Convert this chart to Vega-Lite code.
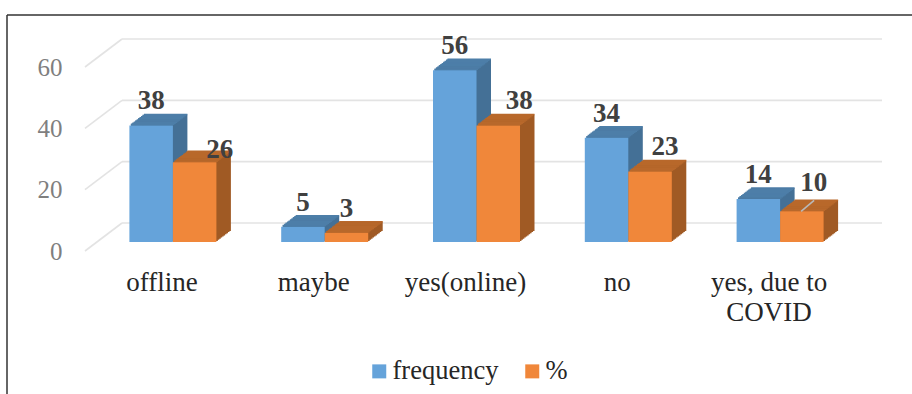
{
"$schema":"https://vega.github.io/schema/vega-lite/v6.json",
"width":759,"height":184,"autosize":"none",
"padding":{"left":85,"top":67,"right":68,"bottom":143},
"background":"white",
"config":{"view":{"stroke":null},"font":"Liberation Serif"},
"data":{"values":[
{"category":"offline","series":"frequency","value":38},{"category":"offline","series":"%","value":26},
{"category":"maybe","series":"frequency","value":5},{"category":"maybe","series":"%","value":3},
{"category":"yes(online)","series":"frequency","value":56},{"category":"yes(online)","series":"%","value":38},
{"category":"no","series":"frequency","value":34},{"category":"no","series":"%","value":23},
{"category":"yes, due to COVID","series":"frequency","value":14},{"category":"yes, due to COVID","series":"%","value":10}
]},
"layer":[
{"data":{"values":[{"tick":0},{"tick":20},{"tick":40},{"tick":60}]},"layer":[
 {"mark":{"type":"rule","color":"#e3e3e3","strokeWidth":1.6,"yOffset":-28,"y2Offset":-28},
  "encoding":{"x":{"value":37},"x2":{"value":797},"y":{"field":"tick","type":"quantitative","scale":{"domain":[0,60],"nice":false},
   "axis":{"title":null,"values":[0,20,40,60],"ticks":false,"domain":false,"grid":false,"labelPadding":23,"labelColor":"#7f7f7f","labelFontSize":25,"labelFont":"Liberation Serif"}},"y2":{"field":"tick"}}},
 {"mark":{"type":"rule","color":"#e3e3e3","strokeWidth":1.6,"y2Offset":-28},
  "encoding":{"x":{"value":0},"x2":{"value":37},"y":{"field":"tick","type":"quantitative"},"y2":{"field":"tick"}}}
]},
{"encoding":{
  "x":{"field":"category","type":"nominal","scale":{"domain":["offline","maybe","yes(online)","no","yes, due to COVID"],"paddingInner":0.428,"paddingOuter":0.214},
   "axis":{"title":null,"domain":false,"ticks":false,"labelAngle":0,"labelPadding":18,"labelOffset":1,"labelColor":"#262626","labelFontSize":27,"labelFont":"Liberation Serif","labelLineHeight":30,"labelBaseline":"top","labelLimit":300,
    "labelExpr":"datum.value === 'yes, due to COVID' ? ['yes, due to', 'COVID'] : datum.value"}},
  "y":{"field":"value","type":"quantitative","scale":{"domain":[0,60],"nice":false}}
 },
 "layer":[
 {"transform":[{"filter":"datum.series==='frequency'"}],"encoding":{"y2":{"datum":0}},"layer":[
  {"mark":{"type":"bar","width":43.5,"color":"#447096","xOffset":-8.3,"yOffset":-10.1,"y2Offset":-10.1}},
  {"mark":{"type":"bar","width":43.5,"color":"#447096","xOffset":-6.85,"yOffset":-11.2,"y2Offset":-11.2}},
  {"mark":{"type":"bar","width":43.5,"color":"#447096","xOffset":-5.4,"yOffset":-12.3,"y2Offset":-12.3}},
  {"mark":{"type":"bar","width":43.5,"color":"#447096","xOffset":-3.95,"yOffset":-13.4,"y2Offset":-13.4}},
  {"mark":{"type":"bar","width":43.5,"color":"#447096","xOffset":-2.5,"yOffset":-14.5,"y2Offset":-14.5}},
  {"mark":{"type":"bar","width":43.5,"color":"#447096","xOffset":-1.05,"yOffset":-15.6,"y2Offset":-15.6}},
  {"mark":{"type":"bar","width":43.5,"color":"#447096","xOffset":0.4,"yOffset":-16.7,"y2Offset":-16.7}},
  {"mark":{"type":"bar","width":43.5,"color":"#447096","xOffset":1.85,"yOffset":-17.8,"y2Offset":-17.8}},
  {"mark":{"type":"bar","width":43.5,"color":"#447096","xOffset":3.3,"yOffset":-18.9,"y2Offset":-18.9}},
  {"mark":{"type":"bar","width":43.5,"color":"#447096","xOffset":4.75,"yOffset":-20,"y2Offset":-20}}
 ]},
 {"transform":[{"filter":"datum.series==='frequency'"}],"encoding":{"y2":{"field":"value"}},"layer":[
  {"mark":{"type":"bar","width":43.5,"stroke":"#4d7ea8","strokeWidth":1.5,"xOffset":-8.3,"yOffset":-10.1,"y2Offset":-10.1}},
  {"mark":{"type":"bar","width":43.5,"stroke":"#4d7ea8","strokeWidth":1.5,"xOffset":-6.85,"yOffset":-11.2,"y2Offset":-11.2}},
  {"mark":{"type":"bar","width":43.5,"stroke":"#4d7ea8","strokeWidth":1.5,"xOffset":-5.4,"yOffset":-12.3,"y2Offset":-12.3}},
  {"mark":{"type":"bar","width":43.5,"stroke":"#4d7ea8","strokeWidth":1.5,"xOffset":-3.95,"yOffset":-13.4,"y2Offset":-13.4}},
  {"mark":{"type":"bar","width":43.5,"stroke":"#4d7ea8","strokeWidth":1.5,"xOffset":-2.5,"yOffset":-14.5,"y2Offset":-14.5}},
  {"mark":{"type":"bar","width":43.5,"stroke":"#4d7ea8","strokeWidth":1.5,"xOffset":-1.05,"yOffset":-15.6,"y2Offset":-15.6}},
  {"mark":{"type":"bar","width":43.5,"stroke":"#4d7ea8","strokeWidth":1.5,"xOffset":0.4,"yOffset":-16.7,"y2Offset":-16.7}},
  {"mark":{"type":"bar","width":43.5,"stroke":"#4d7ea8","strokeWidth":1.5,"xOffset":1.85,"yOffset":-17.8,"y2Offset":-17.8}},
  {"mark":{"type":"bar","width":43.5,"stroke":"#4d7ea8","strokeWidth":1.5,"xOffset":3.3,"yOffset":-18.9,"y2Offset":-18.9}},
  {"mark":{"type":"bar","width":43.5,"stroke":"#4d7ea8","strokeWidth":1.5,"xOffset":4.75,"yOffset":-20,"y2Offset":-20}}
 ]},
 {"transform":[{"filter":"datum.series==='%'"}],"encoding":{"y2":{"datum":0}},"layer":[
  {"mark":{"type":"bar","width":43.5,"color":"#a05a24","xOffset":35.2,"yOffset":-10.1,"y2Offset":-10.1}},
  {"mark":{"type":"bar","width":43.5,"color":"#a05a24","xOffset":36.65,"yOffset":-11.2,"y2Offset":-11.2}},
  {"mark":{"type":"bar","width":43.5,"color":"#a05a24","xOffset":38.1,"yOffset":-12.3,"y2Offset":-12.3}},
  {"mark":{"type":"bar","width":43.5,"color":"#a05a24","xOffset":39.55,"yOffset":-13.4,"y2Offset":-13.4}},
  {"mark":{"type":"bar","width":43.5,"color":"#a05a24","xOffset":41,"yOffset":-14.5,"y2Offset":-14.5}},
  {"mark":{"type":"bar","width":43.5,"color":"#a05a24","xOffset":42.45,"yOffset":-15.6,"y2Offset":-15.6}},
  {"mark":{"type":"bar","width":43.5,"color":"#a05a24","xOffset":43.9,"yOffset":-16.7,"y2Offset":-16.7}},
  {"mark":{"type":"bar","width":43.5,"color":"#a05a24","xOffset":45.35,"yOffset":-17.8,"y2Offset":-17.8}},
  {"mark":{"type":"bar","width":43.5,"color":"#a05a24","xOffset":46.8,"yOffset":-18.9,"y2Offset":-18.9}},
  {"mark":{"type":"bar","width":43.5,"color":"#a05a24","xOffset":48.25,"yOffset":-20,"y2Offset":-20}}
 ]},
 {"transform":[{"filter":"datum.series==='%'"}],"encoding":{"y2":{"field":"value"}},"layer":[
  {"mark":{"type":"bar","width":43.5,"stroke":"#b8682b","strokeWidth":1.5,"xOffset":35.2,"yOffset":-10.1,"y2Offset":-10.1}},
  {"mark":{"type":"bar","width":43.5,"stroke":"#b8682b","strokeWidth":1.5,"xOffset":36.65,"yOffset":-11.2,"y2Offset":-11.2}},
  {"mark":{"type":"bar","width":43.5,"stroke":"#b8682b","strokeWidth":1.5,"xOffset":38.1,"yOffset":-12.3,"y2Offset":-12.3}},
  {"mark":{"type":"bar","width":43.5,"stroke":"#b8682b","strokeWidth":1.5,"xOffset":39.55,"yOffset":-13.4,"y2Offset":-13.4}},
  {"mark":{"type":"bar","width":43.5,"stroke":"#b8682b","strokeWidth":1.5,"xOffset":41,"yOffset":-14.5,"y2Offset":-14.5}},
  {"mark":{"type":"bar","width":43.5,"stroke":"#b8682b","strokeWidth":1.5,"xOffset":42.45,"yOffset":-15.6,"y2Offset":-15.6}},
  {"mark":{"type":"bar","width":43.5,"stroke":"#b8682b","strokeWidth":1.5,"xOffset":43.9,"yOffset":-16.7,"y2Offset":-16.7}},
  {"mark":{"type":"bar","width":43.5,"stroke":"#b8682b","strokeWidth":1.5,"xOffset":45.35,"yOffset":-17.8,"y2Offset":-17.8}},
  {"mark":{"type":"bar","width":43.5,"stroke":"#b8682b","strokeWidth":1.5,"xOffset":46.8,"yOffset":-18.9,"y2Offset":-18.9}},
  {"mark":{"type":"bar","width":43.5,"stroke":"#b8682b","strokeWidth":1.5,"xOffset":48.25,"yOffset":-20,"y2Offset":-20}}
 ]},
 {"transform":[{"filter":"datum.series==='frequency'"}],"mark":{"type":"bar","width":43.5,"xOffset":-9.75,"yOffset":-9,"y2Offset":-9},
  "encoding":{"y2":{"datum":0},
   "fill":{"field":"series","type":"nominal","scale":{"domain":["frequency","%"],"range":["#65a3da","#f0873a"]},
    "legend":{"orient":"none","legendX":281,"legendY":291,"padding":0,"direction":"horizontal","title":null,"symbolType":"square","symbolSize":196,"symbolStrokeWidth":0,"labelFont":"Liberation Serif","labelFontSize":26.5,"labelColor":"#262626","labelOffset":0,"columnPadding":20}}}},
 {"transform":[{"filter":"datum.series==='%'"}],"mark":{"type":"bar","width":43.5,"xOffset":33.75,"yOffset":-9,"y2Offset":-9},
  "encoding":{"y2":{"datum":0},"fill":{"field":"series","type":"nominal"}}},
 {"transform":[{"filter":"datum.series==='frequency'"}],"mark":{"type":"text","font":"Liberation Serif","fontWeight":"bold","fontSize":27,"color":"#404040","dx":-9.75,"dy":-33},"encoding":{"text":{"field":"value"}}},
 {"transform":[{"filter":"datum.series==='%' && datum.category==='offline'"}],"mark":{"type":"text","font":"Liberation Serif","fontWeight":"bold","fontSize":27,"color":"#404040","dx":58.75,"dy":-21},"encoding":{"text":{"field":"value"}}},
 {"transform":[{"filter":"datum.series==='%' && datum.category==='maybe'"}],"mark":{"type":"text","font":"Liberation Serif","fontWeight":"bold","fontSize":27,"color":"#404040","dx":33.75,"dy":-33},"encoding":{"text":{"field":"value"}}},
 {"transform":[{"filter":"datum.series==='%' && datum.category==='yes(online)'"}],"mark":{"type":"text","font":"Liberation Serif","fontWeight":"bold","fontSize":27,"color":"#404040","dx":54.75,"dy":-33},"encoding":{"text":{"field":"value"}}},
 {"transform":[{"filter":"datum.series==='%' && datum.category==='no'"}],"mark":{"type":"text","font":"Liberation Serif","fontWeight":"bold","fontSize":27,"color":"#404040","dx":48.75,"dy":-33},"encoding":{"text":{"field":"value"}}},
 {"transform":[{"filter":"datum.series==='%' && datum.category==='yes, due to COVID'"}],"mark":{"type":"text","font":"Liberation Serif","fontWeight":"bold","fontSize":27,"color":"#404040","dx":45.75,"dy":-37},"encoding":{"text":{"field":"value"}}}
 ]},
{"transform":[{"filter":"datum.series==='%' && datum.category==='yes, due to COVID'"}],
 "mark":{"type":"rule","color":"#b9b9b9","strokeWidth":1.6,"xOffset":33,"x2Offset":46,"yOffset":-9,"y2Offset":-20},
 "encoding":{"x":{"field":"category","type":"nominal"},"x2":{"field":"category"},"y":{"field":"value","type":"quantitative"},"y2":{"field":"value"}}},
{"data":{"values":[{}]},"layer":[
 {"mark":{"type":"rule","color":"#333333","strokeWidth":1.5},"encoding":{"x":{"value":-78},"x2":{"value":827},"y":{"value":-52}}},
 {"mark":{"type":"rule","color":"#333333","strokeWidth":1.5},"encoding":{"x":{"value":-78},"y":{"value":-52},"y2":{"value":327}}}
]}
]
}
